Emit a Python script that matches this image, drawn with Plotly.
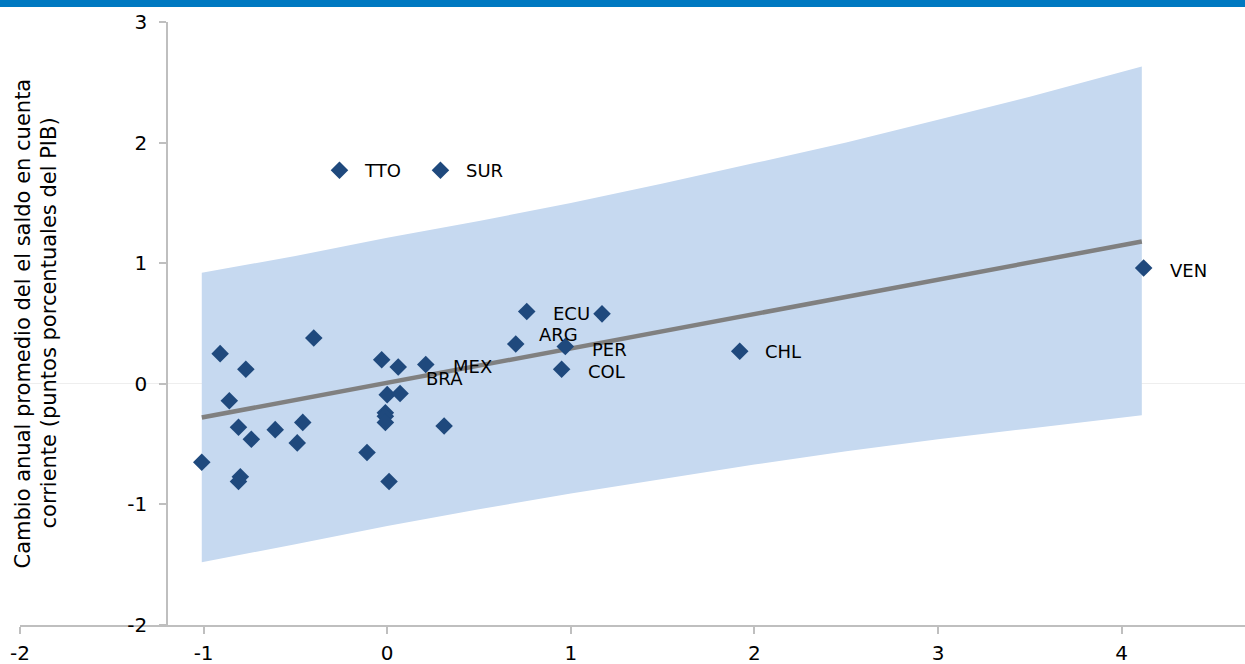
import plotly.graph_objects as go

# Country observations: change in GDP growth (x) vs change in current account balance (y)
labeled_codes = ["TTO", "SUR", "VEN", "CHL", "ECU", "ARG", "PER", "COL", "MEX", "BRA"]
labeled_x = [-0.26, 0.29, 4.12, 1.92, 0.76, 0.70, 0.97, 0.95, 0.21, 0.06]
labeled_y = [1.77, 1.77, 0.96, 0.27, 0.60, 0.33, 0.31, 0.12, 0.16, 0.14]

other_x = [1.17, -0.91, -0.77, -0.40, -0.03, -0.86, 0.00, 0.07, -0.81, -0.74,
           -0.61, -0.46, -0.49, -0.01, -0.01, -0.01, 0.31, -1.01, -0.11, -0.80,
           -0.81, 0.01]
other_y = [0.58, 0.25, 0.12, 0.38, 0.20, -0.14, -0.09, -0.08, -0.36, -0.46,
           -0.38, -0.32, -0.49, -0.24, -0.27, -0.32, -0.35, -0.65, -0.57, -0.77,
           -0.81, -0.81]

# Fitted line and its band
fit_x = [-1.01, 4.11]
fit_y = [-0.28, 1.18]
band_x = [-1.01, -0.5, 0.0, 0.5, 1.0, 1.5, 2.0, 2.5, 3.0, 3.5, 4.11]
band_upper = [0.92, 1.06, 1.21, 1.35, 1.50, 1.66, 1.83, 2.00, 2.19, 2.38, 2.63]
band_lower = [-1.48, -1.33, -1.18, -1.04, -0.91, -0.79, -0.67, -0.56, -0.46, -0.37, -0.26]

x_ticks = [-2, -1, 0, 1, 2, 3, 4]
y_ticks = [-2, -1, 0, 1, 2, 3]

y_title_lines = ["Cambio anual promedio del el saldo en cuenta",
                 "corriente (puntos porcentuales del PIB)"]

# Pixel offsets of each data label relative to its marker
label_offsets = {
    "TTO": (23, 0), "SUR": (24, 0), "VEN": (24, -2), "CHL": (23, 0),
    "ECU": (24, -2), "ARG": (21, 10), "PER": (25, -3), "COL": (24, -2),
    "MEX": (25, -2), "BRA": (26, -12),
}

FONT = "DejaVu Sans"
MARKER_COLOR = "#1f497d"
AXIS_COLOR = "#bfbfbf"
PLOT_LEFT, PLOT_WIDTH = 20, 1225

fig = go.Figure()

fig.add_trace(go.Scatter(
    x=band_x + band_x[::-1],
    y=band_upper + band_lower[::-1],
    fill="toself", fillcolor="#c6d9f0",
    line=dict(width=0), mode="lines", hoverinfo="skip",
))

fig.add_trace(go.Scatter(
    x=fit_x, y=fit_y, mode="lines",
    line=dict(color="#808080", width=4.5),
))

fig.add_trace(go.Scatter(
    x=other_x + labeled_x, y=other_y + labeled_y, mode="markers",
    marker=dict(symbol="diamond", size=13.5, color=MARKER_COLOR),
))

for code, xv, yv in zip(labeled_codes, labeled_x, labeled_y):
    dx, dy = label_offsets[code]
    fig.add_annotation(
        x=xv, y=yv, text=code, showarrow=False,
        xanchor="left", yanchor="middle", xshift=dx, yshift=dy,
        font=dict(family=FONT, size=18, color="#000000"),
    )

# Y axis title, one rotated line at a time
for line_text, px in zip(y_title_lines, [22, 48]):
    fig.add_annotation(
        xref="paper", yref="paper", x=(px - PLOT_LEFT) / PLOT_WIDTH, y=0.5,
        text=line_text, textangle=-90, showarrow=False,
        xanchor="center", yanchor="middle",
        font=dict(family=FONT, size=21, color="#000000"),
    )

# Header strip along the top edge
fig.add_shape(
    type="rect", xref="paper", yref="paper",
    x0=-0.05, x1=1.05, y0=1.0249, y1=1.06,
    fillcolor="#0079c1", line=dict(width=0), layer="above",
)
fig.add_annotation(
    xref="paper", yref="paper", x=0.053, y=1.0262,
    text="<b>1990-2015</b>", showarrow=False,
    xanchor="right", yanchor="bottom",
    font=dict(family=FONT, size=15, color="#ffffff"),
)

fig.update_layout(
    width=1245, height=664,
    margin=dict(l=PLOT_LEFT, r=0, t=22, b=39, autoexpand=False),
    paper_bgcolor="#ffffff", plot_bgcolor="#ffffff",
    showlegend=False,
    font=dict(family=FONT, size=20, color="#000000"),
    xaxis=dict(
        range=[-2, 4.672], tickvals=x_ticks, ticktext=[str(v) for v in x_ticks],
        showgrid=False, zeroline=False, automargin=False,
        showline=True, linecolor=AXIS_COLOR, linewidth=1.5,
        ticks="outside", ticklen=7, tickcolor=AXIS_COLOR, tickwidth=1.5,
        ticklabelstandoff=2,
        tickfont=dict(family=FONT, size=20, color="#000000"),
    ),
    yaxis=dict(
        range=[-2, 3], tickvals=y_ticks, ticktext=[str(v) for v in y_ticks],
        anchor="free", position=0.12, automargin=False,
        showgrid=False, zeroline=True, zerolinecolor="#eeeeee", zerolinewidth=1,
        showline=True, linecolor=AXIS_COLOR, linewidth=1.5,
        ticks="outside", ticklen=7, tickcolor=AXIS_COLOR, tickwidth=1.5,
        ticklabelstandoff=8,
        tickfont=dict(family=FONT, size=20, color="#000000"),
    ),
)

fig.write_html("out.html")
